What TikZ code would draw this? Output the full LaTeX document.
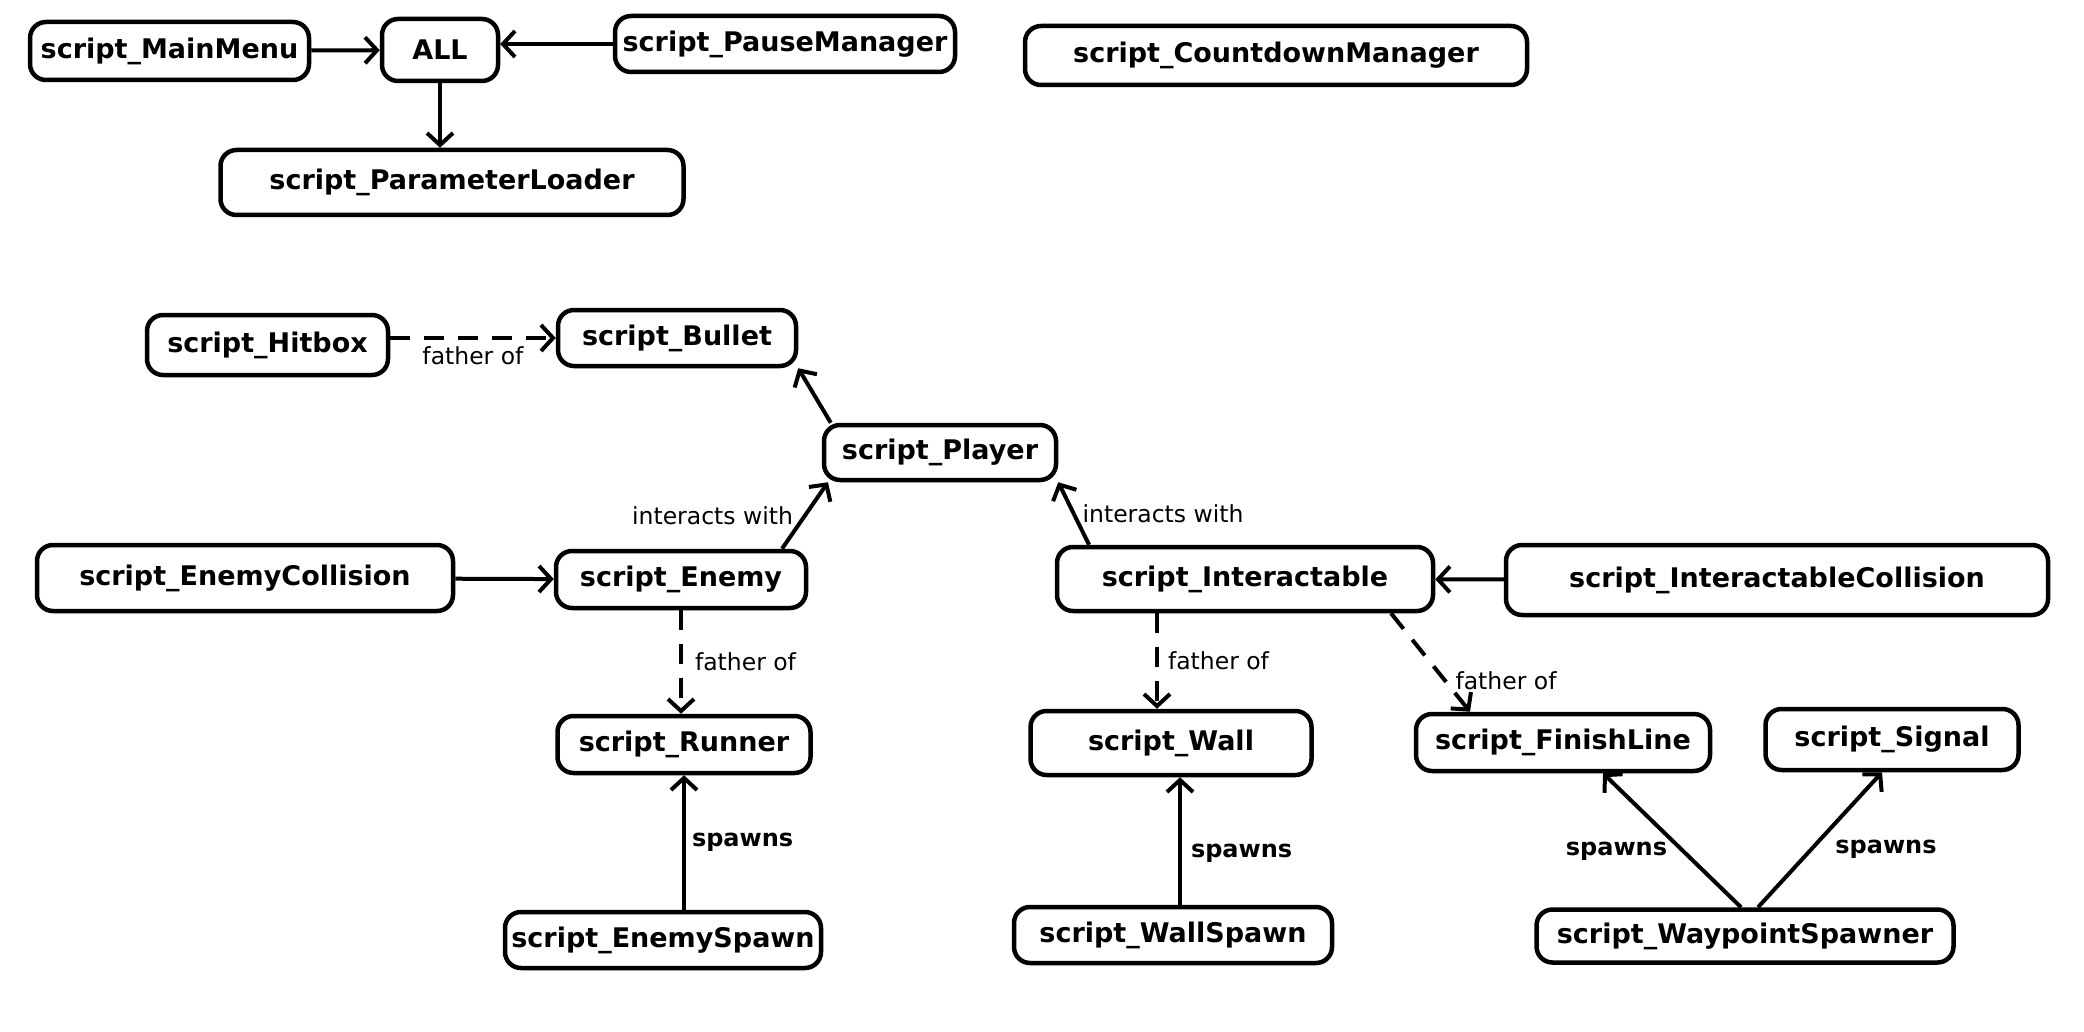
\documentclass[tikz,border=0pt]{standalone}
\usepackage{fontspec}
\setmainfont{DejaVu Sans}
\usetikzlibrary{arrows.meta}
\begin{document}
\begin{tikzpicture}[x=1pt,y=-1pt,
  box/.style={draw, line width=4.5pt, rounded corners=16pt, inner sep=0pt,
    font=\fontsize{27}{32}\selectfont\bfseries},
  conn/.style={line width=4pt, -{Straight Barb[length=12pt,width=26pt]}},
  dconn/.style={conn, dash pattern=on 20pt off 14pt},
  lab/.style={font=\fontsize{23.5}{28}\selectfont, inner sep=0pt},
  slab/.style={font=\fontsize{24}{28}\selectfont\bfseries, inner sep=0pt}]
\fill[white] (0,0) rectangle (2084,1032);
\useasboundingbox (0,0) rectangle (2084,1032);

% nodes
\node[box, minimum width=279pt, minimum height=58pt] (mainmenu) at (169.5,51) {script\_MainMenu};
\node[box, minimum width=116pt, minimum height=62pt] (all) at (440,50) {ALL};
\node[box, minimum width=340pt, minimum height=56pt] (pause) at (785,44) {script\_PauseManager};
\node[box, minimum width=463pt, minimum height=65pt] (pl) at (452,182.5) {script\_ParameterLoader};
\node[box, minimum width=502pt, minimum height=59pt] (count) at (1276,55.5) {script\_CountdownManager};

\node[box, minimum width=241pt, minimum height=60pt] (hitbox) at (267.5,345) {script\_Hitbox};
\node[box, minimum width=238pt, minimum height=56pt] (bullet) at (677,338) {script\_Bullet};
\node[box, minimum width=232pt, minimum height=55pt] (player) at (940,452.5) {script\_Player};
\node[box, minimum width=416pt, minimum height=66pt] (ec) at (245,578) {script\_EnemyCollision};
\node[box, minimum width=250pt, minimum height=57pt] (enemy) at (681,579.5) {script\_Enemy};
\node[box, minimum width=376pt, minimum height=64pt] (inter) at (1245,579) {script\_Interactable};
\node[box, minimum width=542pt, minimum height=70pt] (ic) at (1777,580) {script\_InteractableCollision};

\node[box, minimum width=253pt, minimum height=57pt] (runner) at (684,744.5) {script\_Runner};
\node[box, minimum width=281pt, minimum height=64pt] (wall) at (1171,743) {script\_Wall};
\node[box, minimum width=294pt, minimum height=57pt] (finish) at (1563,742.5) {script\_FinishLine};
\node[box, minimum width=253pt, minimum height=61pt] (signal) at (1892,739.5) {script\_Signal};
\node[box, minimum width=316pt, minimum height=56pt] (es) at (663,940) {script\_EnemySpawn};
\node[box, minimum width=318pt, minimum height=56pt] (ws) at (1173,935) {script\_WallSpawn};
\node[box, minimum width=417pt, minimum height=53pt] (wp) at (1745,936) {script\_WaypointSpawner};

% connectors
\draw[conn] (mainmenu) -- (all);
\draw[conn] (pause.west) -- (pause.west -| all.east);
\draw[conn] (all.south) -- (all.south |- pl.north);

\draw[dconn] (hitbox.east |- bullet.west) -- node[lab, below=7pt] {father of} (bullet.west);
\draw[conn] ([xshift=9pt]player.north west) -- (bullet.south east);
\draw[conn] ([xshift=101pt]enemy.north) -- node[lab, pos=0.5, left=10pt] {interacts with} ([xshift=-112pt]player.south);
\draw[conn] ([xshift=-156pt]inter.north) -- node[lab, pos=0.5, right=7pt] {interacts with} (player.south east);
\draw[conn] (ec) -- (enemy);
\draw[conn] (ic) -- (inter);

\draw[dconn] (enemy.south) -- node[lab, midway, right=12pt] {father of} (enemy.south |- runner.north);
\draw[dconn] ([xshift=-88pt]inter.south) -- node[lab, midway, right=9pt] {father of} ([xshift=-88pt]inter.south |- wall.north);
\draw[dconn] ([xshift=146pt]inter.south) -- node[lab, pos=0.69, right=8pt] {father of} ([xshift=-93pt]finish.north);

\draw[conn] (runner.south |- es.north) -- node[slab, midway, right=6pt] {spawns} (runner.south);
\draw[conn] ([xshift=9pt]wall.south |- ws.north) -- node[slab, pos=0.4, right=9pt] {spawns} ([xshift=9pt]wall.south);
\draw[conn] ([xshift=-4pt]wp.north) -- node[slab, pos=0.42, left=14pt] {spawns} ([xshift=40pt]finish.south);
\draw[conn] ([xshift=13pt]wp.north) -- node[slab, pos=0.43, right=22pt] {spawns} ([xshift=-10pt]signal.south);
\end{tikzpicture}
\end{document}
